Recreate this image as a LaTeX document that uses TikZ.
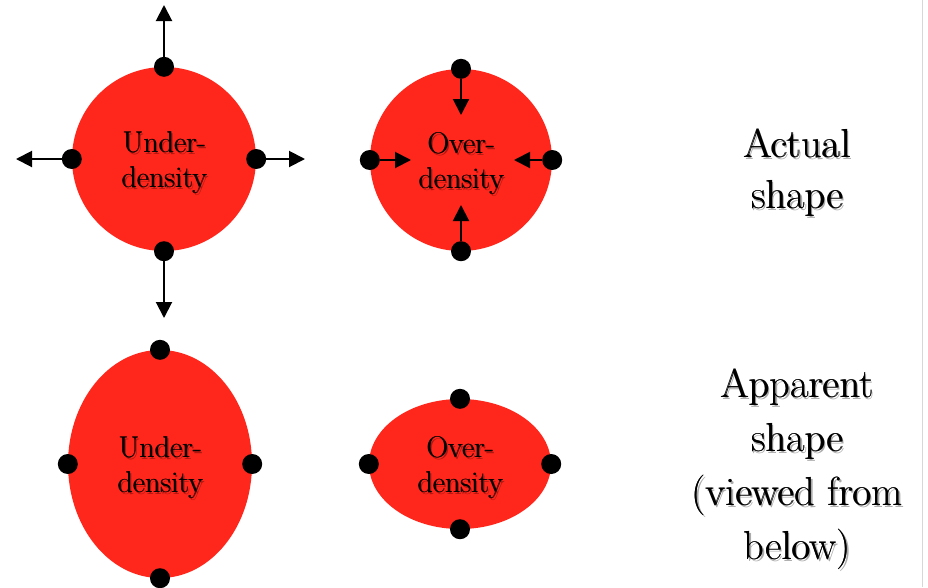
\documentclass[tikz,border=0pt]{standalone}
\usetikzlibrary{arrows.meta,shapes.geometric}
\definecolor{blobred}{RGB}{255,38,28}
\definecolor{edgegray}{RGB}{215,215,215}
\tikzset{
  blob/.style={fill=blobred,draw=none,inner sep=0pt},
  round blob/.style={blob,circle,minimum size=#1},
  oval blob/.style={blob,ellipse},
  dot/.style={circle,fill=black,minimum size=20pt,inner sep=0pt},
  arr/.style={line width=2pt,-{Triangle[length=16pt,width=16pt]}},
  lbl/.style={font=\fontsize{30}{35}\selectfont,align=center,inner sep=0pt,text=black},
  side/.style={font=\fontsize{40.5}{#1}\selectfont,align=center,inner sep=0pt,text=black},
  shade/.style={opacity=0.33},
  thicken/.style={xshift=0.6pt},
}
\begin{document}
\begin{tikzpicture}[x=1pt,y=-1pt]
\useasboundingbox (0,0) rectangle (928,587);
\fill[white] (0,0) rectangle (928,587);
\draw[edgegray,line width=1.2pt] (922.5,0) -- (922.5,587);

% ---- top left: under-density (actual)
\node[round blob=184pt] (ua) at (164,159) {};
\node[lbl,shade] (uats) at (165.8,164.8) {Under-\\density};
\node[lbl] (uat) at (164,163) {Under-\\density};
\node[lbl,thicken] (uat2) at (164,163) {Under-\\density};
\node[dot] (uaN) at (ua.north) {};
\node[dot] (uaS) at (ua.south) {};
\node[dot] (uaW) at (ua.west) {};
\node[dot] (uaE) at (ua.east) {};
\coordinate (uaNt) at (164,5);
\coordinate (uaSt) at (164,318);
\coordinate (uaWt) at (16,159);
\coordinate (uaEt) at (305,159);
\draw[arr] (uaN) -- (uaNt);
\draw[arr] (uaS) -- (uaSt);
\draw[arr] (uaW) -- (uaWt);
\draw[arr] (uaE) -- (uaEt);

% ---- top right: over-density (actual)
\node[round blob=182pt] (oa) at (461,160) {};
\node[lbl,shade] (oats) at (462.8,165.8) {Over-\\density};
\node[lbl] (oat) at (461,164) {Over-\\density};
\node[lbl,thicken] (oat2) at (461,164) {Over-\\density};
\node[dot] (oaN) at (oa.north) {};
\node[dot] (oaS) at (oa.south) {};
\node[dot] (oaW) at (oa.west) {};
\node[dot] (oaE) at (oa.east) {};
\coordinate (oaNt) at (461,115);
\coordinate (oaSt) at (461,205);
\coordinate (oaWt) at (411,160);
\coordinate (oaEt) at (514,160);
\draw[arr] (oaN) -- (oaNt);
\draw[arr] (oaS) -- (oaSt);
\draw[arr] (oaW) -- (oaWt);
\draw[arr] (oaE) -- (oaEt);

% ---- bottom left: under-density (apparent)
\node[oval blob,minimum width=184pt,minimum height=228pt] (up) at (160,464) {};
\node[lbl,shade] (upts) at (161.8,469.8) {Under-\\density};
\node[lbl] (upt) at (160,468) {Under-\\density};
\node[lbl,thicken] (upt2) at (160,468) {Under-\\density};
\node[dot] (upN) at (up.north) {};
\node[dot] (upS) at (up.south) {};
\node[dot] (upW) at (up.west) {};
\node[dot] (upE) at (up.east) {};

% ---- bottom right: over-density (apparent)
\node[oval blob,minimum width=182pt,minimum height=130pt] (op) at (460,464) {};
\node[lbl,shade] (opts) at (461.8,469.8) {Over-\\density};
\node[lbl] (opt) at (460,468) {Over-\\density};
\node[lbl,thicken] (opt2) at (460,468) {Over-\\density};
\node[dot] (opN) at (op.north) {};
\node[dot] (opS) at (op.south) {};
\node[dot] (opW) at (op.west) {};
\node[dot] (opE) at (op.east) {};

% ---- side labels
\node[side=51,shade] (acts) at (798.8,174.3) {Actual\\shape};
\node[side=51] (act) at (797,172.5) {Actual\\shape};
\node[side=51,thicken] (act2) at (797,172.5) {Actual\\shape};
\node[side=54,shade] (apps) at (798.8,470.8) {Apparent\\shape\\(viewed from\\below)};
\node[side=54] (app) at (797,469) {Apparent\\shape\\(viewed from\\below)};
\node[side=54,thicken] (app2) at (797,469) {Apparent\\shape\\(viewed from\\below)};
\end{tikzpicture}
\end{document}
